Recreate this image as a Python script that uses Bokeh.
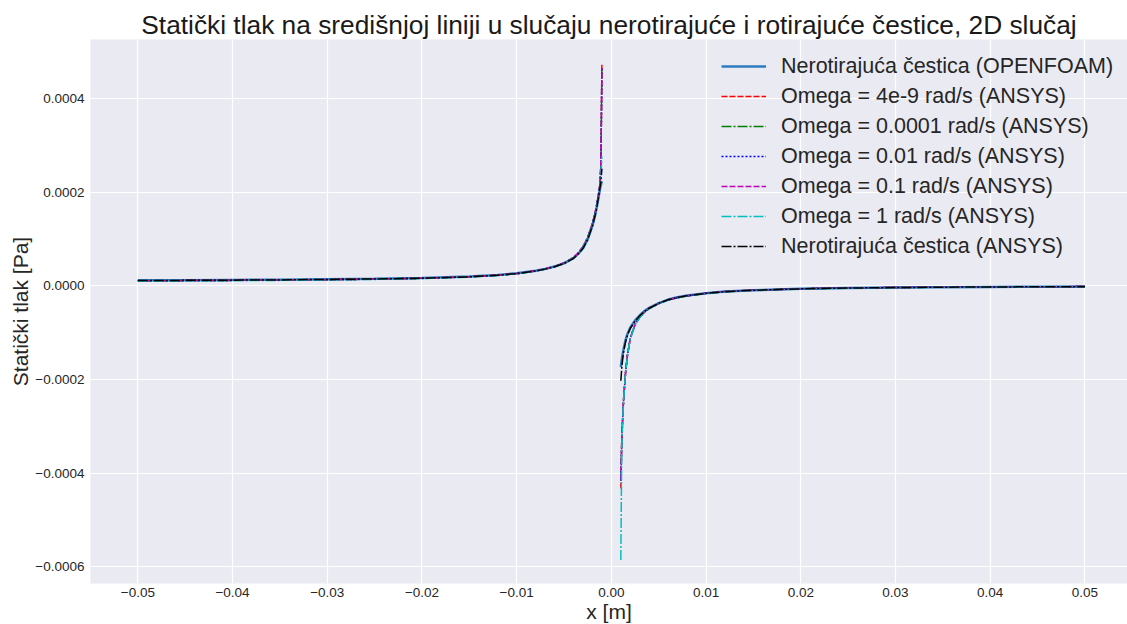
import math
from bokeh.plotting import figure
from bokeh.models import Range1d, FixedTicker, CustomJSTickFormatter, Legend, LegendItem
from bokeh.embed import file_html
from bokeh.resources import INLINE

# ---------------- data ----------------
x_left = [-0.05, -0.045, -0.04, -0.035, -0.03, -0.025, -0.02, -0.015, -0.012, -0.01,
          -0.008, -0.007, -0.006, -0.005, -0.004, -0.0035, -0.003, -0.0025, -0.002,
          -0.0017, -0.0015, -0.0013, -0.0012, -0.0011, -0.001]
x_right = [0.001, 0.0011, 0.0012, 0.0013, 0.0015, 0.0017, 0.002, 0.0025, 0.003, 0.0035,
           0.004, 0.005, 0.006, 0.007, 0.008, 0.01, 0.012, 0.015, 0.02, 0.025,
           0.03, 0.035, 0.04, 0.045, 0.05]

openfoam_left = [1.15e-5, 1.2e-5, 1.25e-5, 1.3e-5, 1.4e-5, 1.5e-5, 1.65e-5, 1.95e-5, 2.3e-5, 2.65e-5,
                 3.2e-5, 3.6e-5, 4.1e-5, 4.8e-5, 5.9e-5, 6.8e-5, 8.0e-5, 9.9e-5, 1.28e-4,
                 1.52e-4, 1.72e-4, 1.95e-4, 2.07e-4, 2.16e-4, 2.23e-4]
openfoam_right = [-1.74e-4, -1.58e-4, -1.45e-4, -1.34e-4, -1.16e-4, -1.03e-4, -8.9e-5, -7.4e-5, -6.3e-5, -5.4e-5,
                  -4.7e-5, -3.7e-5, -2.95e-5, -2.45e-5, -2.1e-5, -1.6e-5, -1.25e-5, -9.5e-6, -6.5e-6, -4.8e-6,
                  -3.7e-6, -3.0e-6, -2.5e-6, -2.1e-6, -1.8e-6]

omega_4e9_left = [1.05e-5, 1.1e-5, 1.15e-5, 1.2e-5, 1.3e-5, 1.4e-5, 1.6e-5, 1.9e-5, 2.25e-5, 2.6e-5,
                  3.15e-5, 3.55e-5, 4.1e-5, 4.85e-5, 6.0e-5, 7.0e-5, 8.3e-5, 1.03e-4, 1.33e-4,
                  1.57e-4, 1.78e-4, 2.02e-4, 2.18e-4, 2.62e-4, 4.72e-4]
omega_4e9_right = [-4.33e-4, -3.32e-4, -2.8e-4, -2.4e-4, -1.85e-4, -1.48e-4, -1.12e-4, -8.3e-5, -6.7e-5, -5.6e-5,
                   -4.85e-5, -3.8e-5, -3.0e-5, -2.5e-5, -2.15e-5, -1.6e-5, -1.25e-5, -9.5e-6, -6.5e-6, -4.8e-6,
                   -3.7e-6, -3.0e-6, -2.5e-6, -2.1e-6, -1.8e-6]

omega_1e4_left = [1.05e-5, 1.1e-5, 1.15e-5, 1.2e-5, 1.3e-5, 1.4e-5, 1.6e-5, 1.9e-5, 2.25e-5, 2.6e-5,
                  3.15e-5, 3.55e-5, 4.1e-5, 4.85e-5, 6.0e-5, 7.0e-5, 8.3e-5, 1.03e-4, 1.33e-4,
                  1.57e-4, 1.78e-4, 2.02e-4, 2.18e-4, 2.6e-4, 4.66e-4]
omega_1e4_right = [-4.16e-4, -3.3e-4, -2.8e-4, -2.4e-4, -1.85e-4, -1.48e-4, -1.12e-4, -8.3e-5, -6.7e-5, -5.6e-5,
                   -4.85e-5, -3.8e-5, -3.0e-5, -2.5e-5, -2.15e-5, -1.6e-5, -1.25e-5, -9.5e-6, -6.5e-6, -4.8e-6,
                   -3.7e-6, -3.0e-6, -2.5e-6, -2.1e-6, -1.8e-6]

omega_001_left = [1.05e-5, 1.1e-5, 1.15e-5, 1.2e-5, 1.3e-5, 1.4e-5, 1.6e-5, 1.9e-5, 2.25e-5, 2.6e-5,
                  3.15e-5, 3.55e-5, 4.1e-5, 4.85e-5, 6.0e-5, 7.0e-5, 8.3e-5, 1.03e-4, 1.33e-4,
                  1.57e-4, 1.78e-4, 2.02e-4, 2.18e-4, 2.6e-4, 4.66e-4]
omega_001_right = [-4.16e-4, -3.3e-4, -2.8e-4, -2.4e-4, -1.85e-4, -1.48e-4, -1.12e-4, -8.3e-5, -6.7e-5, -5.6e-5,
                   -4.85e-5, -3.8e-5, -3.0e-5, -2.5e-5, -2.15e-5, -1.6e-5, -1.25e-5, -9.5e-6, -6.5e-6, -4.8e-6,
                   -3.7e-6, -3.0e-6, -2.5e-6, -2.1e-6, -1.8e-6]

omega_01_left = [1.05e-5, 1.1e-5, 1.15e-5, 1.2e-5, 1.3e-5, 1.4e-5, 1.6e-5, 1.9e-5, 2.25e-5, 2.6e-5,
                 3.15e-5, 3.55e-5, 4.1e-5, 4.85e-5, 6.0e-5, 7.0e-5, 8.3e-5, 1.03e-4, 1.33e-4,
                 1.57e-4, 1.78e-4, 2.02e-4, 2.18e-4, 2.6e-4, 4.64e-4]
omega_01_right = [-4.14e-4, -3.3e-4, -2.8e-4, -2.4e-4, -1.85e-4, -1.48e-4, -1.12e-4, -8.3e-5, -6.7e-5, -5.6e-5,
                  -4.85e-5, -3.8e-5, -3.0e-5, -2.5e-5, -2.15e-5, -1.6e-5, -1.25e-5, -9.5e-6, -6.5e-6, -4.8e-6,
                  -3.7e-6, -3.0e-6, -2.5e-6, -2.1e-6, -1.8e-6]

omega_1_left = [1.0e-5, 1.05e-5, 1.1e-5, 1.15e-5, 1.25e-5, 1.35e-5, 1.55e-5, 1.85e-5, 2.2e-5, 2.55e-5,
                3.1e-5, 3.5e-5, 4.05e-5, 4.8e-5, 5.95e-5, 6.9e-5, 8.2e-5, 1.02e-4, 1.31e-4,
                1.55e-4, 1.75e-4, 1.98e-4, 2.12e-4, 2.36e-4, 2.76e-4]
omega_1_right = [-5.86e-4, -3.4e-4, -2.85e-4, -2.42e-4, -1.86e-4, -1.49e-4, -1.13e-4, -8.4e-5, -6.8e-5, -5.7e-5,
                 -4.9e-5, -3.85e-5, -3.05e-5, -2.55e-5, -2.2e-5, -1.65e-5, -1.3e-5, -1.0e-5, -7.0e-6, -5.2e-6,
                 -4.0e-6, -3.2e-6, -2.7e-6, -2.3e-6, -2.0e-6]

ansys_nonrot_left = [1.1e-5, 1.15e-5, 1.2e-5, 1.25e-5, 1.35e-5, 1.45e-5, 1.6e-5, 1.9e-5, 2.25e-5, 2.6e-5,
                     3.15e-5, 3.55e-5, 4.05e-5, 4.75e-5, 5.85e-5, 6.8e-5, 8.0e-5, 9.9e-5, 1.28e-4,
                     1.52e-4, 1.72e-4, 1.96e-4, 2.1e-4, 2.25e-4, 2.5e-4]
ansys_nonrot_right = [-2.03e-4, -1.75e-4, -1.55e-4, -1.4e-4, -1.2e-4, -1.05e-4, -9.1e-5, -7.6e-5, -6.4e-5, -5.5e-5,
                      -4.8e-5, -3.75e-5, -3.0e-5, -2.5e-5, -2.15e-5, -1.62e-5, -1.27e-5, -9.6e-6, -6.6e-6, -4.9e-6,
                      -3.8e-6, -3.1e-6, -2.6e-6, -2.2e-6, -1.9e-6]

labels = ["Nerotirajuća čestica (OPENFOAM)",
          "Omega = 4e-9 rad/s (ANSYS)",
          "Omega = 0.0001 rad/s (ANSYS)",
          "Omega = 0.01 rad/s (ANSYS)",
          "Omega = 0.1 rad/s (ANSYS)",
          "Omega = 1 rad/s (ANSYS)",
          "Nerotirajuća čestica (ANSYS)"]
x_ticks = [-0.05, -0.04, -0.03, -0.02, -0.01, 0.0, 0.01, 0.02, 0.03, 0.04, 0.05]
y_ticks = [-0.0006, -0.0004, -0.0002, 0.0, 0.0002, 0.0004]

series = [(openfoam_left, openfoam_right),
          (omega_4e9_left, omega_4e9_right),
          (omega_1e4_left, omega_1e4_right),
          (omega_001_left, omega_001_right),
          (omega_01_left, omega_01_right),
          (omega_1_left, omega_1_right),
          (ansys_nonrot_left, ansys_nonrot_right)]

styles = [("#2f7bbf", "solid", 2.5),
          ("#ff0000", "6 2", 1.5),
          ("#008000", "10 2 2 2", 1.5),
          ("#0000ff", "2 2", 1.5),
          ("#bf00bf", "6 2", 1.5),
          ("#00bfbf", "10 2 2 2", 1.5),
          ("#000000", "10 2 2 2", 1.5)]

FONT = "Liberation Sans"
TXT = "#262626"

p = figure(width=1127, height=625,
           x_range=Range1d(-0.055, 0.0545), y_range=Range1d(-0.000636, 0.000526),
           output_backend="svg", toolbar_location=None,
           min_border_left=90, min_border_right=0, min_border_top=39, min_border_bottom=41,
           background_fill_color="#EAEAF2", border_fill_color="white", outline_line_color=None)

p.title.text = "Statički tlak na središnjoj liniji u slučaju nerotirajuće i rotirajuće čestice, 2D slučaj"
p.title.align = "center"
p.title.offset = 2
p.title.text_font = FONT
p.title.text_font_size = "26.3px"
p.title.text_font_style = "normal"
p.title.text_color = "#1a1a1a"
p.title.standoff = 0

for ax in (p.xaxis[0], p.yaxis[0]):
    ax.axis_line_color = None
    ax.major_tick_line_color = None
    ax.minor_tick_line_color = None
    ax.major_tick_out = 0
    ax.major_tick_in = 0
    ax.major_label_text_font = FONT
    ax.major_label_text_font_size = "13.5px"
    ax.major_label_text_color = TXT
    ax.axis_label_text_font = FONT
    ax.axis_label_text_font_style = "normal"
    ax.axis_label_text_color = TXT
    ax.axis_label_standoff = 0

p.xaxis.major_label_standoff = 4
p.yaxis.major_label_standoff = 6
p.xaxis.axis_label_text_font_size = "21px"
p.yaxis.axis_label_text_font_size = "21px"
p.xaxis.axis_label = "x [m]"
p.yaxis.axis_label = "Statički tlak [Pa]"
p.xaxis.ticker = FixedTicker(ticks=x_ticks)
p.yaxis.ticker = FixedTicker(ticks=y_ticks)
p.xaxis.formatter = CustomJSTickFormatter(code="""
    if (Math.abs(tick) < 1e-12) return "0.00";
    return tick.toFixed(2).replace("-", "\u2212");
""")
p.yaxis.formatter = CustomJSTickFormatter(code="""
    if (Math.abs(tick) < 1e-12) return "0.0000";
    return tick.toFixed(4).replace("-", "\u2212");
""")
p.xgrid.grid_line_color = "white"
p.ygrid.grid_line_color = "white"
p.xgrid.grid_line_width = 1.2
p.ygrid.grid_line_width = 1.2

items = []
for (left, right), (color, dash, lw), label in zip(series, styles, labels):
    xs = x_left + [math.nan] + x_right
    ys = left + [math.nan] + right
    r = p.line(xs, ys, line_color=color, line_dash=dash, line_width=lw)
    items.append(LegendItem(label=label, renderers=[r]))

legend = Legend(items=items, location=(631, 322), orientation="vertical",
                background_fill_alpha=0, border_line_alpha=0,
                padding=0, margin=0, spacing=0,
                glyph_width=45, glyph_height=30, label_height=30, label_standoff=15,
                label_text_font=FONT, label_text_font_size="21.5px", label_text_color=TXT)
p.add_layout(legend, "center")

open("out.html", "w").write(file_html(p, INLINE))
